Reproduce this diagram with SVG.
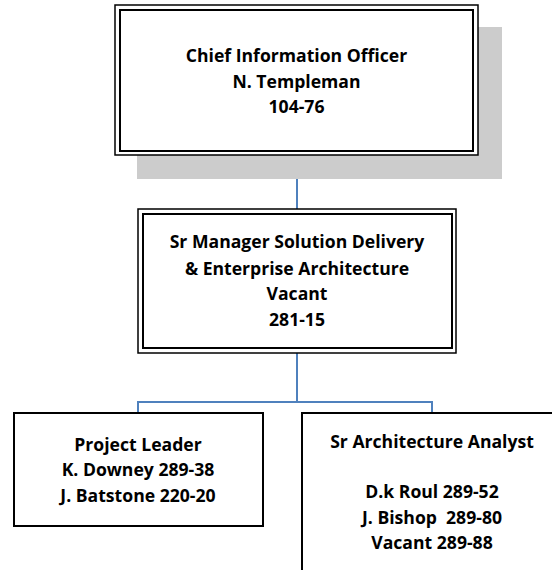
<svg xmlns="http://www.w3.org/2000/svg" width="552" height="570" viewBox="0 0 552 570">
<style>
.box{fill:#fff;stroke:#000;stroke-width:2}
.thin{fill:#fff;stroke:#000;stroke-width:1.5}
.inner{fill:none;stroke:#000;stroke-width:2}
.conn{fill:none;stroke:#4f81bd;stroke-width:2}
text{font-family:"Open Sans","Liberation Sans",sans-serif;font-weight:bold;font-size:17.6px;fill:#000;text-anchor:middle}
</style>
<rect width="552" height="570" fill="#fff"/>
<g id="connectors">
<path class="conn" d="M297,155V209"/>
<path class="conn" d="M297,353V402M138,413V402H432V413"/>
</g>
<g id="cio">
<rect x="137" y="27" width="365" height="152" fill="#cccccc"/>
<rect x="115" y="5" width="363" height="150" class="thin"/>
<rect x="120" y="10" width="353" height="141" class="inner"/>
<text x="296.5" y="62">Chief Information Officer</text>
<text x="296.5" y="88">N. Templeman</text>
<text x="296.5" y="113">104-76</text>
</g>
<g id="srmanager">
<rect x="138" y="209" width="318" height="144" class="thin"/>
<rect x="143" y="214" width="309" height="134" class="inner"/>
<text x="297" y="248">Sr Manager Solution Delivery</text>
<text x="297" y="275">&amp; Enterprise Architecture</text>
<text x="297" y="300">Vacant</text>
<text x="297" y="326">281-15</text>
</g>
<g id="projectleader">
<rect x="14" y="413" width="249" height="113" class="box"/>
<text x="138" y="451">Project Leader</text>
<text x="138" y="476">K. Downey 289-38</text>
<text x="138" y="502">J. Batstone 220-20</text>
</g>
<g id="analyst">
<rect x="302" y="413" width="262" height="170" class="box"/>
<text x="432" y="448">Sr Architecture Analyst</text>
<text x="432" y="498">D.k Roul 289-52</text>
<text x="432" y="524" xml:space="preserve">J. Bishop  289-80</text>
<text x="432" y="549">Vacant 289-88</text>
</g>
</svg>
